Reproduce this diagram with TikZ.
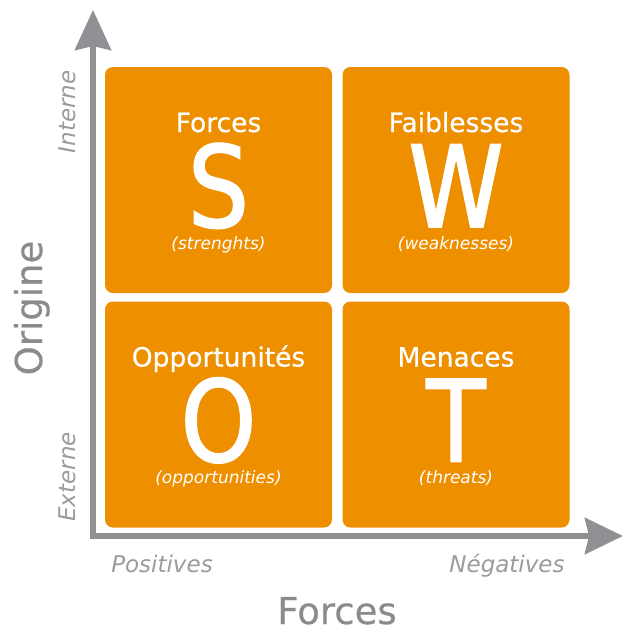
\documentclass[tikz,border=0pt]{standalone}
\usepackage{fontspec}
\setmainfont{DejaVu Sans}
\newfontfamily\swotbig[FakeBold=1.6, FakeStretch=0.85]{DejaVu Sans}
\newfontfamily\swottitle[FakeBold=0.5]{DejaVu Sans}
\usetikzlibrary{arrows.meta}
\definecolor{swotorange}{HTML}{EE8F00}
\definecolor{axisgray}{HTML}{8F9195}
\definecolor{labelgray}{HTML}{8A8B8E}
\definecolor{softgray}{HTML}{9A9B9E}
\tikzset{
  quad/.style={fill=swotorange, rounded corners=8pt, minimum width=227pt, minimum height=226pt, inner sep=0pt, draw=none},
  qtitle/.style={anchor=base, text=white, font=\swottitle\fontsize{26.5}{30}\selectfont, inner sep=0pt},
  qletter/.style={anchor=base, text=white, font=\swotbig\fontsize{113}{120}\selectfont, inner sep=0pt},
  qsub/.style={anchor=base, text=white, font=\fontsize{17}{20}\selectfont\itshape, inner sep=0pt},
  axislabel/.style={anchor=base, text=labelgray, font=\swottitle\fontsize{37}{40}\selectfont, inner sep=0pt},
  poslabel/.style={anchor=base, text=softgray, font=\fontsize{23}{26}\selectfont\itshape, inner sep=0pt},
  axisline/.style={draw=axisgray, line width=6pt, {Stealth[length=40pt,width=36pt,inset=4pt]}-{Stealth[length=38pt,width=36pt,inset=4pt]}}
}
\begin{document}
\begin{tikzpicture}[x=1pt,y=-1pt]
\useasboundingbox (0,0) rectangle (623,632);
% axes
\coordinate (top) at (93,10);
\coordinate (corner) at (93,536);
\coordinate (right) at (623,536);
\draw[axisline] (top) -- (corner) -- (right);
% quadrants
\node[quad] (S) at (218.5,180) {};
\node[quad] (W) at (456,180) {};
\node[quad] (O) at (218.5,414.5) {};
\node[quad] (T) at (456,414.5) {};
% texts
\node[qtitle] (St) at ([yshift=48pt]S.center) {Forces};
\node[qletter] (Sl) at ([yshift=-47pt]S.center) {S};
\node[qsub] (Ss) at ([yshift=-69pt]S.center) {(strenghts)};
\node[qtitle] (Wt) at ([yshift=48pt]W.center) {Faiblesses};
\node[qletter] (Wl) at ([yshift=-47pt]W.center) {W};
\node[qsub] (Ws) at ([yshift=-69pt]W.center) {(weaknesses)};
\node[qtitle] (Ot) at ([yshift=48pt]O.center) {Opportunités};
\node[qletter] (Ol) at ([yshift=-47pt]O.center) {O};
\node[qsub] (Os) at ([yshift=-69pt]O.center) {(opportunities)};
\node[qtitle] (Tt) at ([yshift=48pt]T.center) {Menaces};
\node[qletter] (Tl) at ([yshift=-47pt]T.center) {T};
\node[qsub] (Ts) at ([yshift=-69pt]T.center) {(threats)};
% axis labels
\node[axislabel] (forces) at (337,624) {Forces};
\node[axislabel, rotate=90] (origine) at (42,308) {Origine};
\node[poslabel] (pos) at (162,572) {Positives};
\node[poslabel] (neg) at (507,572) {Négatives};
\node[poslabel, rotate=90] (int) at (75,112) {Interne};
\node[poslabel, rotate=90] (ext) at (75,477) {Externe};
\end{tikzpicture}
\end{document}
